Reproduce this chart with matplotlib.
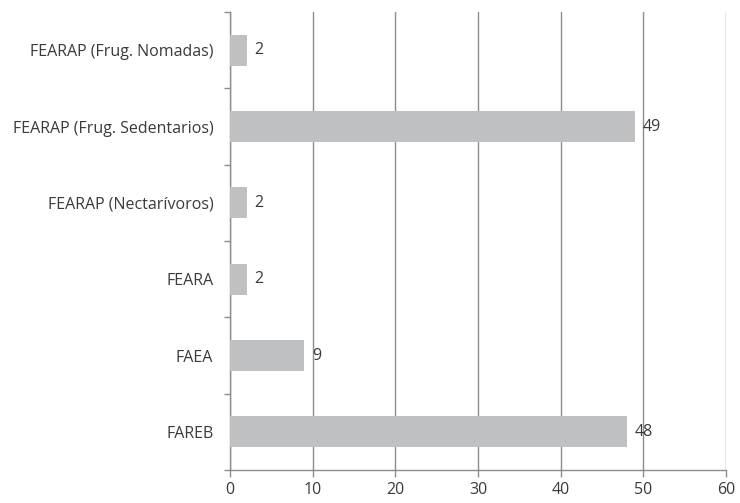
import matplotlib
matplotlib.use("Agg")
import matplotlib.pyplot as plt
import numpy as np

categories = [
    "FAREB",
    "FAEA",
    "FEARA",
    "FEARAP (Nectarívoros)",
    "FEARAP (Frug. Sedentarios)",
    "FEARAP (Frug. Nomadas)",
]
values = [48, 9, 2, 2, 49, 2]
x_ticks = [0, 10, 20, 30, 40, 50, 60]

plt.rcParams["font.family"] = ["Open Sans", "DejaVu Sans"]
FS = 11.5
TXT = "#3a3a3a"

fig = plt.figure(figsize=(7.4, 5.03), dpi=100)
ax = fig.add_axes([230 / 740, 1 - 470 / 503, (726 - 230) / 740, (470 - 12) / 503])

pos = np.arange(len(categories))
ax.barh(pos, values, height=0.41, color="#bfc0c2", zorder=3)

for p, v in zip(pos, values):
    ax.text(v + 0.9, p, str(v), va="center", ha="left", fontsize=FS, color=TXT, zorder=4)

ax.set_xlim(0, 60)
ax.set_ylim(-0.5, len(categories) - 0.5)
ax.set_xticks(x_ticks)
ax.set_xticklabels([str(t) for t in x_ticks])
ax.set_yticks(pos)
ax.set_yticklabels(categories)
ax.set_yticks(np.arange(-0.5, len(categories), 1.0), minor=True)

ax.xaxis.grid(True, color="#8c8c8c", linewidth=1.0, zorder=0)
ax.set_axisbelow(True)

for side in ("top", "right"):
    ax.spines[side].set_visible(False)
for side in ("left", "bottom"):
    ax.spines[side].set_color("#8c8c8c")
    ax.spines[side].set_linewidth(1.0)

ax.tick_params(axis="y", which="major", length=0, pad=12, labelsize=FS, labelcolor=TXT)
ax.tick_params(axis="y", which="minor", length=4, width=1, color="#8c8c8c")
ax.tick_params(axis="x", which="major", length=5, width=1, color="#8c8c8c", pad=4,
               labelsize=FS, labelcolor=TXT)

fig.savefig("out.png", dpi=100)
